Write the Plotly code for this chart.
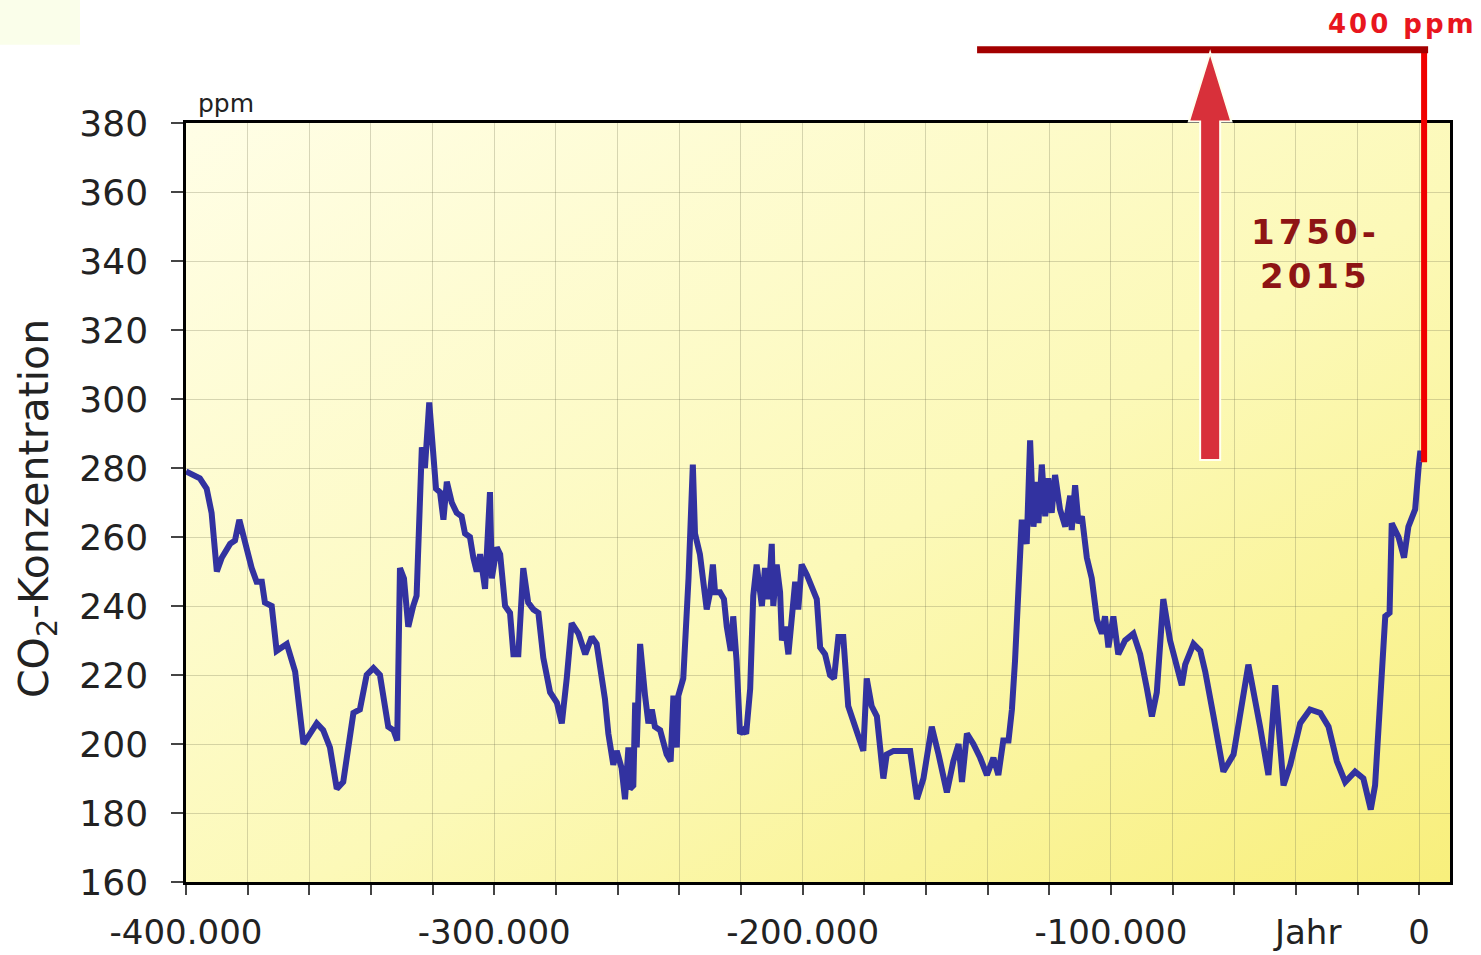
import base64
import plotly.graph_objects as go

# ---------------- data ----------------
YEARS_KA = [
    -400, -395.5, -393.3, -391.7, -390.0, -388.4, -385.7, -384.1, -382.7, -381.4,
    -378.7, -377.1, -375.4, -374.4, -372.2, -370.6, -367.3, -364.6, -361.9, -357.6,
    -355.5, -353.3, -351.1, -349.0, -345.7, -343.6, -341.4, -339.2, -337.1, -334.4,
    -332.7, -331.5, -330.6, -329.3, -327.9, -326.3, -325.2, -323.5, -322.5, -321.1,
    -319.8, -318.9, -317.6, -316.5, -315.4, -313.8, -312.2, -310.6, -309.5, -307.9,
    -306.8, -305.7, -304.6, -303.0, -301.4, -300.8, -299.2, -298.1, -296.5, -294.9,
    -293.8, -292.2, -290.6, -289.0, -287.3, -285.7, -284.1, -281.9, -279.7, -278.1,
    -276.5, -274.9, -272.7, -270.5, -268.4, -266.8, -264.1, -263.0, -261.4, -260.3,
    -258.7, -257.6, -256.5, -256.0, -254.9, -254.3, -253.8, -252.7, -251.1, -250.0,
    -248.9, -247.9, -246.2, -244.1, -242.8, -241.9, -240.8, -240.3, -238.7, -237.0,
    -235.6, -234.9, -233.3, -232.2, -231.1, -230.0, -229.1, -228.4, -226.8, -225.5,
    -224.6, -223.3, -222.5, -221.4, -220.3, -219.2, -218.3, -217.0, -216.0, -214.9,
    -213.2, -212.2, -211.1, -210.0, -209.5, -208.4, -207.3, -206.7, -205.7, -204.6,
    -203.5, -202.4, -201.4, -200.3, -198.6, -195.4, -194.3, -192.7, -191.1, -189.8,
    -188.4, -186.8, -185.2, -182.4, -180.3, -179.2, -177.6, -175.9, -173.8, -172.7,
    -170.5, -165.1, -162.9, -160.8, -158.1, -155.9, -153.2, -151.1, -149.4, -148.3,
    -146.7, -144.6, -142.4, -140.2, -138.1, -136.5, -134.9, -133.2, -132.1, -131.1,
    -128.9, -127.3, -126.2, -125.1, -124.0, -123.5, -122.4, -121.3, -120.3, -119.2,
    -118.1, -116.5, -114.8, -113.2, -112.7, -111.6, -110.5, -109.4, -107.8, -106.2,
    -104.5, -102.9, -101.9, -100.8, -99.2, -97.6, -95.4, -92.7, -90.5, -88.3,
    -86.7, -85.1, -83.0, -80.8, -77.0, -75.9, -73.2, -71.0, -69.4, -66.7,
    -63.5, -60.2, -55.4, -51.6, -48.9, -46.7, -44.0, -41.8, -38.6, -35.4,
    -32.1, -29.4, -26.7, -24.0, -20.8, -18.1, -15.7, -14.3, -12.7, -11.0,
    -9.6, -8.9, -6.7, -4.9, -3.5, -1.3, -0.2, 0.4, 0.8,
]
CO2_PPM = [
    279, 277, 274, 267, 250, 254, 258, 259, 265, 260,
    251, 247, 247, 241, 240, 227, 229, 221, 200, 206,
    204, 199, 187, 189, 209, 210, 220, 222, 220, 205,
    204, 201, 251, 248, 234, 240, 243, 286, 280, 299,
    282, 274, 273, 265, 276, 270, 267, 266, 261, 260,
    254, 250, 255, 245, 273, 248, 257, 255, 240, 238,
    226, 226, 251, 241, 239, 238, 225, 215, 212, 206,
    219, 235, 232, 226, 231, 229, 213, 203, 194, 198,
    193, 184, 199, 187, 188, 212, 199, 229, 214, 206,
    210, 205, 204, 197, 195, 214, 199, 214, 219, 248,
    281, 261, 255, 246, 239, 244, 252, 244, 244, 242,
    234, 227, 237, 224, 203, 204, 203, 216, 243, 252,
    240, 251, 242, 258, 240, 252, 244, 230, 234, 226,
    235, 247, 239, 252, 249, 242, 228, 226, 220, 219,
    231, 231, 211, 203, 198, 219, 211, 208, 190, 197,
    198, 198, 184, 190, 205, 197, 186, 195, 200, 189,
    203, 200, 196, 191, 196, 191, 201, 201, 210, 224,
    265, 258, 288, 263, 276, 264, 281, 266, 277, 267,
    278, 268, 263, 272, 262, 275, 264, 266, 254, 248,
    236, 232, 237, 228, 237, 226, 230, 232, 226, 216,
    208, 215, 242, 230, 217, 223, 229, 227, 221, 208,
    192, 197, 223, 205, 191, 217, 188, 194, 206, 210,
    209, 205, 195, 189, 192, 190, 181, 188, 213, 237,
    238, 264, 260, 254, 263, 268, 280, 285, 282,
]
YEARS = [k * 1000 for k in YEARS_KA]

X_TICK_VALUES = list(range(-400000, 1, 20000))
X_TICK_LABELS = {-400000: "-400.000", -300000: "-300.000", -200000: "-200.000",
                 -100000: "-100.000", 0: "0"}
Y_TICK_VALUES = list(range(160, 381, 20))
X_RANGE = [-400000, 10000]
Y_RANGE = [160, 380]

# overlay (bracket / arrow) values
LEVEL_NOW = 401.2      # 400 ppm level
LEVEL_1750 = 281.7     # pre-industrial level
ARROW_YEAR = -67800
BRACKET_START = -143400
BRACKET_END = 2900
VERTICAL_YEAR = 1600
TEXT_YEAR = -33700
JAHR_YEAR = -36300


def py(v):
    """ppm value -> paper fraction of the y axis"""
    return (v - Y_RANGE[0]) / (Y_RANGE[1] - Y_RANGE[0])


FONT = "DejaVu Sans"
TXT = "#222222"

fig = go.Figure()
fig.add_trace(go.Scatter(
    x=YEARS, y=CO2_PPM, mode="lines",
    line=dict(color="#3232a0", width=6),
    hoverinfo="skip", showlegend=False,
))

# yellow gradient background
svg = ('<svg xmlns="http://www.w3.org/2000/svg" width="400" height="300" '
       'viewBox="0 0 400 300" preserveAspectRatio="none"><defs>'
       '<linearGradient id="g" x1="0" y1="0" x2="1" y2="1">'
       '<stop offset="0" stop-color="#fffee6"/>'
       '<stop offset="0.55" stop-color="#fcf9b8"/>'
       '<stop offset="1" stop-color="#f8ef7c"/>'
       '</linearGradient></defs>'
       '<rect width="400" height="300" fill="url(#g)"/></svg>')
src = "data:image/svg+xml;base64," + base64.b64encode(svg.encode()).decode()
fig.add_layout_image(dict(
    source=src, xref="x", yref="y", x=X_RANGE[0], y=Y_RANGE[1],
    sizex=X_RANGE[1] - X_RANGE[0], sizey=Y_RANGE[1] - Y_RANGE[0],
    xanchor="left", yanchor="top", sizing="stretch", layer="below",
))

shapes = []
# faint box top-left
shapes.append(dict(type="rect", xref="paper", yref="paper",
                   x0=-186 / 1264, x1=-106 / 1264, y0=1.103, y1=1.162,
                   fillcolor="#fafeea", line=dict(width=0), layer="below"))
# bright red vertical
shapes.append(dict(type="line", xref="x", yref="paper",
                   x0=VERTICAL_YEAR, x1=VERTICAL_YEAR,
                   y0=py(LEVEL_1750), y1=py(LEVEL_NOW),
                   line=dict(color="#f00000", width=6)))
# bottom dark red line
shapes.append(dict(type="line", xref="x", yref="paper",
                   x0=ARROW_YEAR, x1=BRACKET_END,
                   y0=py(LEVEL_1750), y1=py(LEVEL_1750),
                   line=dict(color="#990000", width=7), layer="between"))
# top dark red line
shapes.append(dict(type="line", xref="x", yref="paper",
                   x0=BRACKET_START, x1=BRACKET_END,
                   y0=py(LEVEL_NOW), y1=py(LEVEL_NOW),
                   line=dict(color="#a30000", width=7)))
# big arrow
sw, hw = 3250, 6900
yb, yh, yt = py(LEVEL_1750 + 0.6), py(380.4), py(LEVEL_NOW - 0.8)
ax = ARROW_YEAR
path = (f"M {ax - sw},{yb} L {ax - sw},{yh} L {ax - hw},{yh} L {ax},{yt} "
        f"L {ax + hw},{yh} L {ax + sw},{yh} L {ax + sw},{yb} Z")
shapes.append(dict(type="path", xref="x", yref="paper", path=path,
                   fillcolor="#d8303a", line=dict(color="#fffff0", width=2)))

annotations = [
    dict(text='<b><span style="letter-spacing:3px">400 ppm</span></b>',
         xref="paper", yref="paper", x=0.9625, y=1.1304,
         xanchor="center", yanchor="middle", showarrow=False,
         font=dict(family=FONT, size=26, color="#e8161e")),
    dict(text='<b><span style="letter-spacing:4px">1750-</span></b><br>'
              '<b><span style="letter-spacing:4px">2015</span></b>',
         xref="x", yref="paper", x=TEXT_YEAR, y=0.827,
         xanchor="center", yanchor="middle", showarrow=False,
         font=dict(family=FONT, size=34, color="#8e1414")),
    dict(text="ppm", xref="paper", yref="paper", x=40 / 1264, y=1.0,
         xanchor="center", yanchor="bottom", yshift=3, showarrow=False,
         font=dict(family=FONT, size=25, color=TXT)),
    dict(text="Jahr", xref="x", yref="paper", x=JAHR_YEAR, y=-50 / 759,
         xanchor="center", yanchor="middle", showarrow=False,
         font=dict(family=FONT, size=34, color=TXT)),
    dict(text="CO<sub>2</sub>-Konzentration", textangle=-90,
         xref="paper", yref="paper", x=-149 / 1264, y=0.4914,
         xanchor="center", yanchor="middle", showarrow=False,
         font=dict(family=FONT, size=41, color=TXT)),
]

grid = "rgba(110,110,80,0.28)"
fig.update_layout(
    template="none",
    width=1481, height=955, autosize=False,
    margin=dict(l=186, r=31, t=123, b=73, pad=0),
    paper_bgcolor="white", plot_bgcolor="rgba(0,0,0,0)",
    shapes=shapes, annotations=annotations, showlegend=False,
    xaxis=dict(range=X_RANGE, tickmode="array", tickvals=X_TICK_VALUES,
               ticktext=[X_TICK_LABELS.get(v, "") for v in X_TICK_VALUES],
               ticks="outside", ticklen=10, tickwidth=1.5, tickcolor="#444",
               showgrid=True, gridcolor=grid, gridwidth=1, zeroline=False,
               showline=True, linecolor="black", linewidth=2.5, mirror=True,
               tickfont=dict(family=FONT, size=34, color=TXT),
               ticklabelstandoff=8, automargin=False),
    yaxis=dict(range=Y_RANGE, tickmode="array", tickvals=Y_TICK_VALUES,
               ticks="outside", ticklen=12, tickwidth=1.5, tickcolor="#444",
               showgrid=True, gridcolor=grid, gridwidth=1, zeroline=False,
               showline=True, linecolor="black", linewidth=2.5, mirror=True,
               tickfont=dict(family=FONT, size=36, color=TXT),
               ticklabelstandoff=16, automargin=False),
)

fig.write_html("out.html", config={"displayModeBar": False},
               post_script="document.body.style.margin='0';")
